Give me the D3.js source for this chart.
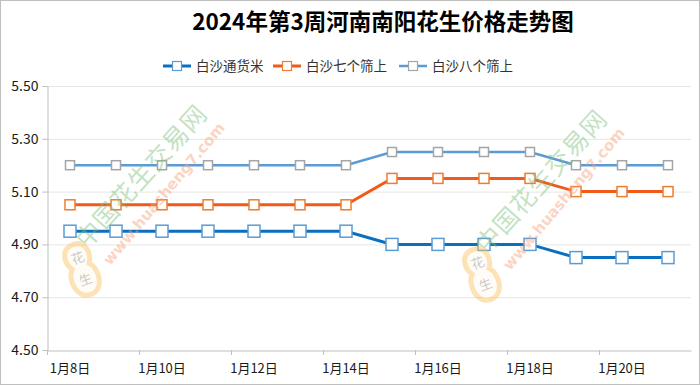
<!DOCTYPE html>
<html><head><meta charset="utf-8">
<script src="https://cdn.jsdelivr.net/npm/d3@7"></script>
<style>body{margin:0;background:#fff}svg{display:block}</style>
</head><body>
<svg id="c" width="700" height="385"></svg>
<script>
const categories = ["1月8日","1月9日","1月10日","1月11日","1月12日","1月13日","1月14日","1月15日","1月16日","1月17日","1月18日","1月19日","1月20日","1月21日"];
const seriesNames = ["白沙通货米","白沙七个筛上","白沙八个筛上"];
const tonghuomi = [4.95,4.95,4.95,4.95,4.95,4.95,4.95,4.90,4.90,4.90,4.90,4.85,4.85,4.85];
const qigeshai = [5.05,5.05,5.05,5.05,5.05,5.05,5.05,5.15,5.15,5.15,5.15,5.10,5.10,5.10];
const bageshai = [5.20,5.20,5.20,5.20,5.20,5.20,5.20,5.25,5.25,5.25,5.25,5.20,5.20,5.20];
const yTicks = [4.50,4.70,4.90,5.10,5.30,5.50];
const title = "2024年第3周河南南阳花生价格走势图";

const font = "'Noto Sans CJK SC','Microsoft YaHei',sans-serif";
const svg = d3.select("#c");
svg.append("rect").attr("x",0.5).attr("y",0.5).attr("width",699).attr("height",384).attr("fill","#fff").attr("stroke","#bfbfbf");

const L=47, R=691, T=86, B=350;
const x = d3.scaleBand().domain(categories).range([L,R]);
const y = d3.scaleLinear().domain([4.5,5.5]).range([B,T]);

// grid
svg.append("g").selectAll("line").data(yTicks.slice(1)).join("line")
  .attr("x1",L).attr("x2",R).attr("y1",d=>y(d)+0.5).attr("y2",d=>y(d)+0.5)
  .attr("stroke","#e6e6e6").attr("stroke-width",1);

// y axis
const ya = svg.append("g").attr("transform",`translate(${L+0.5},0)`)
  .call(d3.axisLeft(y).tickValues(yTicks).tickFormat(d3.format(".2f")).tickSize(5).tickSizeOuter(0));
ya.select(".domain").attr("stroke","#bfbfbf");
ya.selectAll(".tick line").attr("stroke","#bfbfbf");
ya.selectAll("text").attr("font-family",font).attr("font-size",14).attr("fill","#1a1a1a").attr("x",-9);

// x axis
const xa = svg.append("g").attr("transform",`translate(0,${B+0.5})`)
  .call(d3.axisBottom(x).tickValues([]).tickSizeOuter(0));
xa.select(".domain").attr("stroke","#bfbfbf");
const bounds = categories.filter((d,i)=>i%2===0);
svg.append("g").selectAll("line").data(bounds).join("line")
  .attr("x1",d=>Math.round(x(d))+0.5).attr("x2",d=>Math.round(x(d))+0.5)
  .attr("y1",B).attr("y2",B+5).attr("stroke","#bfbfbf");
svg.append("g").selectAll("text").data(bounds).join("text")
  .attr("x",d=>x(d)+x.bandwidth()/2).attr("y",B+23)
  .attr("text-anchor","middle").attr("font-family",font).attr("font-size",13).attr("fill","#1a1a1a")
  .text(d=>d);

// series
const series = [
  {name:seriesNames[0], vals:tonghuomi, color:"#0b6fc0", w:3, ms:12, mstroke:"#5b9bd5"},
  {name:seriesNames[1], vals:qigeshai, color:"#f05a1a", w:3, ms:10, mstroke:"#ed7d31"},
  {name:seriesNames[2], vals:bageshai, color:"#5b9bd5", w:2.5, ms:9, mstroke:"#a5a5a5"}
];
const cx = d=>x(d)+x.bandwidth()/2;
const line = d3.line().x((v,i)=>cx(categories[i])).y(v=>y(v));
series.forEach(s=>{
  svg.append("path").attr("d",line(s.vals)).attr("fill","none").attr("stroke",s.color).attr("stroke-width",s.w);
});
series.forEach(s=>{
  svg.append("g").selectAll("rect").data(s.vals).join("rect")
    .attr("x",(v,i)=>cx(categories[i])-s.ms/2).attr("y",v=>y(v)-s.ms/2)
    .attr("width",s.ms).attr("height",s.ms).attr("fill","#fff").attr("stroke",s.mstroke).attr("stroke-width",1.5);
});

// watermarks
function watermark(dx,dy){
  const g = svg.append("g").attr("transform",`translate(${dx},${dy})`).attr("opacity",0.45).attr("pointer-events","none");
  g.append("text").attr("transform","translate(87,250) rotate(-48)")
    .attr("font-family",font).attr("font-size",25).attr("font-weight","normal").attr("fill","#7cc07c")
    .attr("letter-spacing",1).text("中国花生交易网");
  g.append("text").attr("transform","translate(110,266) rotate(-50)")
    .attr("font-family","'DejaVu Sans',sans-serif").attr("font-size",15).attr("font-weight","bold").attr("fill","#f7a27a")
    .text("www.huasheng7.com");
  const p = g.append("g").attr("transform","translate(82,270) rotate(-20)");
  p.append("path").attr("d","M0,-27 C13,-27 15,-13 9,-4 C17,4 15,26 0,26 C-15,26 -17,4 -9,-4 C-15,-13 -13,-27 0,-27 Z")
    .attr("fill","#fff8ec").attr("stroke","#fbc060").attr("stroke-width",5);
  p.append("text").attr("x",0).attr("y",-8).attr("text-anchor","middle").attr("font-family",font).attr("font-size",13).attr("fill","#888").text("花");
  p.append("text").attr("x",0).attr("y",15).attr("text-anchor","middle").attr("font-family",font).attr("font-size",13).attr("fill","#888").text("生");
}
watermark(0,0);
watermark(400,5);

// title
svg.append("text").attr("x",383).attr("y",30).attr("text-anchor","middle")
  .attr("font-family",font).attr("font-size",22.5).attr("font-weight","bold").attr("fill","#000").text(title);

// legend
const legX = [163,273,399];
series.forEach((s,i)=>{
  const g = svg.append("g").attr("transform",`translate(${legX[i]},66)`);
  g.append("line").attr("x1",0).attr("x2",28).attr("y1",0).attr("y2",0).attr("stroke",s.color).attr("stroke-width",s.w);
  const m = Math.min(s.ms,9);
  g.append("rect").attr("x",14-m/2).attr("y",-m/2).attr("width",m).attr("height",m).attr("fill","#fff").attr("stroke",s.mstroke).attr("stroke-width",1.2);
  g.append("text").attr("x",33).attr("y",5).attr("font-family",font).attr("font-size",13.5).attr("fill","#333").text(s.name);
});
</script>
</body></html>
